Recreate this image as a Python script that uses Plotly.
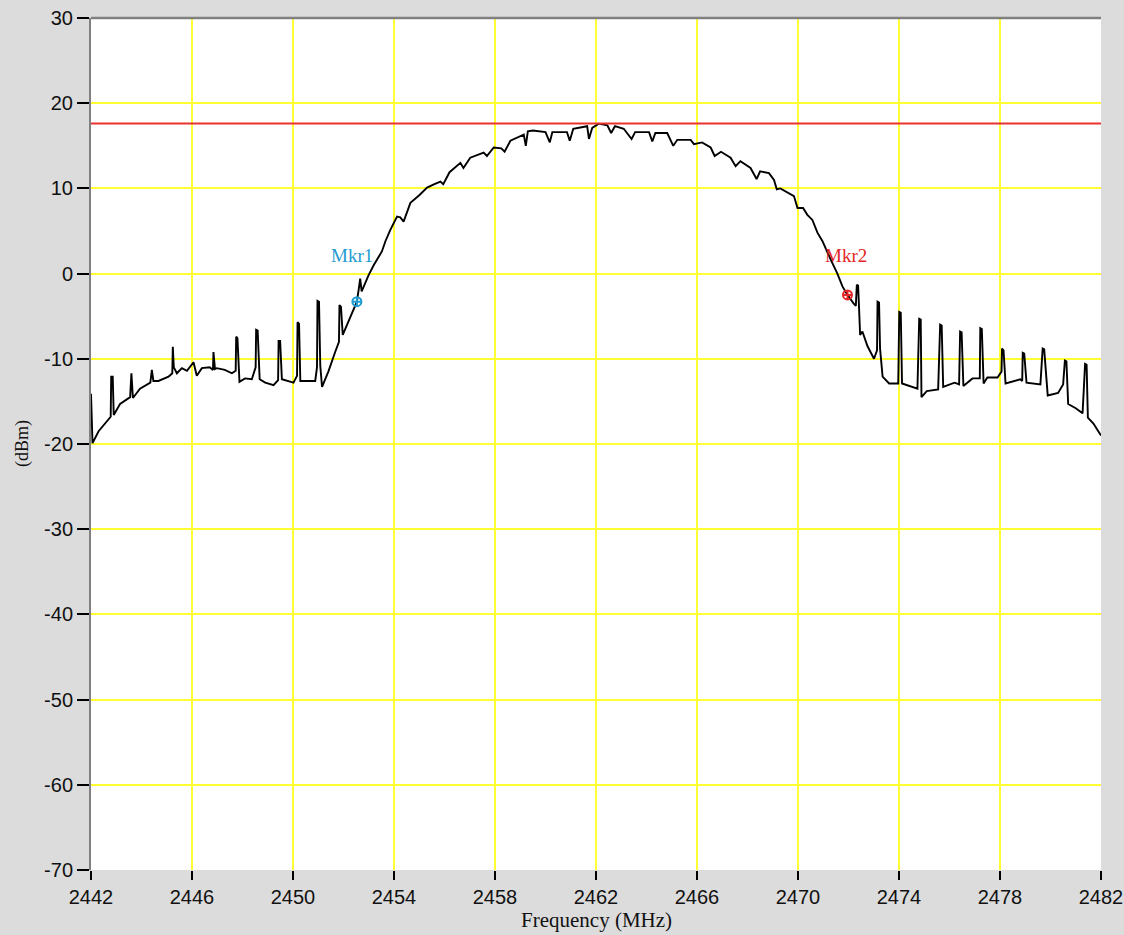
import plotly.graph_objects as go

# ---- data ----
freq_mhz = [
    2442.00, 2442.06, 2442.30, 2442.62, 2442.78, 2442.80, 2442.86, 2442.90, 2443.15, 2443.55,
    2443.60, 2443.66, 2443.74, 2443.94, 2444.35, 2444.41, 2444.47, 2444.67, 2445.07, 2445.22,
    2445.24, 2445.28, 2445.40, 2445.60, 2445.80, 2446.06, 2446.19, 2446.39, 2446.70, 2446.83,
    2446.85, 2446.91, 2446.98, 2447.30, 2447.58, 2447.73, 2447.75, 2447.80, 2447.88, 2448.10,
    2448.37, 2448.52, 2448.54, 2448.60, 2448.68, 2448.90, 2449.23, 2449.41, 2449.43, 2449.49,
    2449.56, 2449.80, 2450.02, 2450.16, 2450.18, 2450.24, 2450.29, 2450.60, 2450.88, 2450.95,
    2450.97, 2451.03, 2451.08, 2451.15, 2451.40, 2451.67, 2451.82, 2451.84, 2451.90, 2451.97,
    2452.25, 2452.53, 2452.62, 2452.66, 2452.72, 2452.85, 2452.99, 2453.20, 2453.39, 2453.52,
    2453.66, 2453.85, 2454.12, 2454.25, 2454.38, 2454.65, 2455.00, 2455.31, 2455.60, 2455.84,
    2455.95, 2456.20, 2456.63, 2456.75, 2457.02, 2457.55, 2457.68, 2457.95, 2458.25, 2458.38,
    2458.61, 2459.14, 2459.22, 2459.30, 2459.50, 2460.00, 2460.17, 2460.27, 2460.85, 2460.96,
    2461.10, 2461.65, 2461.72, 2461.85, 2462.11, 2462.45, 2462.60, 2462.75, 2463.10, 2463.41,
    2463.55, 2464.10, 2464.23, 2464.35, 2464.82, 2465.06, 2465.22, 2465.75, 2465.88, 2466.20,
    2466.54, 2466.70, 2466.95, 2467.33, 2467.53, 2467.72, 2468.12, 2468.36, 2468.50, 2468.85,
    2469.05, 2469.16, 2469.30, 2469.84, 2469.98, 2470.20, 2470.37, 2470.57, 2470.77, 2470.97,
    2471.30, 2471.56, 2471.76, 2471.96, 2472.20, 2472.29, 2472.33, 2472.38, 2472.42, 2472.46,
    2472.55, 2472.75, 2473.01, 2473.13, 2473.15, 2473.21, 2473.25, 2473.35, 2473.61, 2473.97,
    2474.01, 2474.07, 2474.12, 2474.35, 2474.73, 2474.80, 2474.86, 2474.89, 2475.10, 2475.55,
    2475.63, 2475.69, 2475.75, 2476.20, 2476.38, 2476.42, 2476.48, 2476.55, 2476.91, 2477.20,
    2477.22, 2477.28, 2477.35, 2477.50, 2477.90, 2478.06, 2478.08, 2478.14, 2478.22, 2478.80,
    2478.88, 2478.90, 2478.96, 2479.05, 2479.60, 2479.69, 2479.75, 2479.89, 2480.30, 2480.50,
    2480.57, 2480.63, 2480.70, 2481.00, 2481.27, 2481.37, 2481.43, 2481.48, 2481.70, 2482.00,
]
power_dbm = [
    -14.1, -19.9, -18.5, -17.4, -16.8, -12.1, -12.1, -16.6, -15.3, -14.5,
    -11.7, -14.6, -14.3, -13.5, -12.8, -11.3, -12.6, -12.6, -12.1, -11.7,
    -8.6, -11.0, -11.7, -11.1, -11.4, -10.4, -12.0, -11.1, -11.0, -11.3,
    -9.2, -11.2, -11.1, -11.3, -11.7, -11.4, -7.4, -7.6, -12.7, -12.3,
    -12.4, -11.0, -6.6, -6.7, -12.4, -12.8, -13.1, -12.5, -7.9, -7.9,
    -12.4, -12.6, -12.8, -12.0, -5.7, -5.9, -12.6, -12.6, -12.6, -11.0,
    -3.2, -3.3, -10.8, -13.3, -11.5, -9.2, -8.0, -3.7, -3.9, -7.2,
    -5.3, -3.3, -1.5, -0.6, -2.1, -1.2, -0.2, 1.0, 2.0, 2.6,
    3.8, 5.1, 6.7, 6.6, 6.1, 8.3, 9.2, 10.1, 10.5, 10.8,
    10.5, 11.9, 13.0, 12.4, 13.6, 14.2, 13.8, 14.8, 14.7, 14.3,
    15.6, 16.3, 15.0, 16.7, 16.8, 16.6, 15.4, 16.6, 16.6, 15.6,
    17.0, 17.3, 15.8, 17.1, 17.6, 17.4, 16.5, 17.3, 17.0, 15.8,
    16.6, 16.6, 15.5, 16.5, 16.5, 15.0, 15.7, 15.7, 15.2, 15.4,
    14.8, 13.8, 14.3, 13.6, 12.6, 13.2, 12.4, 11.1, 12.0, 11.8,
    11.0, 9.9, 10.0, 9.1, 7.7, 7.7, 6.9, 6.3, 4.8, 3.8,
    1.6, 0.0, -1.5, -2.5, -3.5, -3.8, -1.3, -1.4, -4.2, -7.2,
    -6.8, -8.5, -10.0, -9.0, -3.3, -3.4, -8.8, -12.1, -12.9, -12.9,
    -4.5, -4.6, -12.9, -13.1, -13.5, -5.3, -5.4, -14.5, -13.8, -13.6,
    -6.0, -6.1, -13.3, -12.8, -13.0, -6.8, -6.9, -13.2, -12.3, -12.3,
    -6.4, -6.5, -12.9, -12.2, -12.2, -11.5, -8.8, -9.0, -12.9, -12.4,
    -12.6, -9.3, -9.4, -12.8, -13.0, -8.8, -8.9, -14.3, -14.0, -13.0,
    -10.2, -10.3, -15.3, -15.8, -16.4, -10.6, -10.7, -16.9, -17.6, -19.0,
]

reference_level_dbm = 17.63

marker_names = ["Mkr1", "Mkr2"]
marker_freq = [2452.53, 2471.96]
marker_dbm = [-3.3, -2.5]
marker_label_freq = [2452.35, 2471.89]
marker_label_dbm = [2.1, 2.1]

x_ticks = [2442, 2446, 2450, 2454, 2458, 2462, 2466, 2470, 2474, 2478, 2482]
y_ticks = [30, 20, 10, 0, -10, -20, -30, -40, -50, -60, -70]
y_tick_labels = ["30", "20", "10", "0", "-10", "-20", "-30", "-40", "-50", "-60", "-70"]

# ---- styles ----
marker_colors = ["#1f9bd1", "#e32626"]
grid_color = "#ffff33"
bg_color = "#dcdcdc"
tick_font = dict(family="Liberation Sans, Arial, sans-serif", size=20, color="#111111")
serif = "Liberation Serif, Times New Roman, serif"

fig = go.Figure()

fig.add_trace(go.Scatter(
    x=freq_mhz, y=power_dbm, mode="lines",
    line=dict(color="black", width=1.9), showlegend=False, hoverinfo="skip",
))

for name, fx, fy, col in zip(marker_names, marker_freq, marker_dbm, marker_colors):
    fig.add_trace(go.Scatter(
        x=[fx], y=[fy], mode="markers", name=name, showlegend=False,
        marker=dict(symbol="circle-cross-open", size=9, color=col, line=dict(width=2, color=col)),
    ))

for name, lx, ly, col in zip(marker_names, marker_label_freq, marker_label_dbm, marker_colors):
    fig.add_annotation(x=lx, y=ly, text=name, showarrow=False,
                       font=dict(family=serif, size=19, color=col),
                       xanchor="center", yanchor="middle")

# reference level line
fig.add_shape(type="line", xref="paper", x0=0, x1=1, yref="y",
              y0=reference_level_dbm, y1=reference_level_dbm,
              line=dict(color="#e8322e", width=2))
# top frame line
fig.add_shape(type="line", xref="paper", x0=0, x1=1, yref="paper", y0=1, y1=1,
              line=dict(color="#808080", width=2.5))

fig.update_xaxes(
    range=[2442, 2482], tickvals=x_ticks, ticktext=[str(v) for v in x_ticks],
    showgrid=True, gridcolor=grid_color, gridwidth=1.8,
    ticks="outside", ticklen=9, tickwidth=1.5, tickcolor="black",
    tickfont=tick_font, showline=False, zeroline=False, automargin=False,
)
fig.update_yaxes(
    range=[-70, 30], tickvals=y_ticks, ticktext=y_tick_labels,
    showgrid=True, gridcolor=grid_color, gridwidth=1.8,
    ticks="outside", ticklen=12, tickwidth=1.5, tickcolor="black",
    tickfont=tick_font, showline=True, linecolor="#808080", linewidth=2,
    zeroline=False, automargin=False,
)

fig.add_annotation(xref="paper", yref="paper", x=0.5, y=-0.0587, text="Frequency (MHz)",
                   showarrow=False, font=dict(family=serif, size=21, color="#111111"),
                   xanchor="center", yanchor="middle")
fig.add_annotation(xref="paper", yref="paper", x=-0.0683, y=0.5, text="(dBm)", textangle=-90,
                   showarrow=False, font=dict(family=serif, size=18, color="#111111"),
                   xanchor="center", yanchor="middle")

fig.update_layout(
    width=1124, height=935, autosize=False,
    margin=dict(l=91, r=23, t=18, b=65, autoexpand=False),
    paper_bgcolor=bg_color, plot_bgcolor="white",
    showlegend=False,
)

fig.write_html(
    "out.html",
    config={"displayModeBar": False},
    post_script="document.body.style.margin='0';document.body.style.overflow='hidden';",
)
